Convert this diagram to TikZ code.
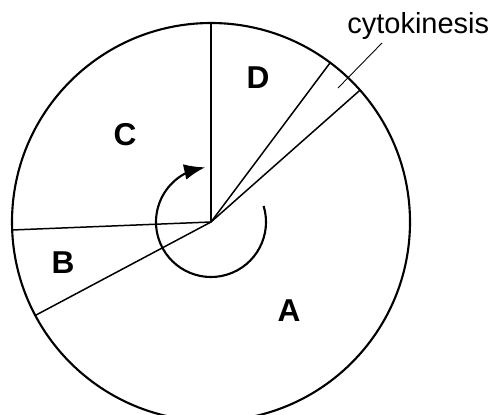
\documentclass[tikz,border=0pt]{standalone}
\usepackage{fontspec}
\setmainfont{Liberation Sans}
\usetikzlibrary{arrows.meta,bending}

\begin{document}
\begin{tikzpicture}[x=0.02cm, y=0.02cm,
    wall/.style={line width=0.85pt},
    phase/.style={font=\fontsize{18}{21}\selectfont\bfseries, inner sep=0pt}]
    \clip (0,0) rectangle (494,414);
    \coordinate (O) at (211,192);

    % the cycle and its phases
    \draw[line width=1.2pt] (O) circle[radius=199];
    \draw[wall] (O) -- ++(90:199);
    \draw[wall] (O) -- ++(182.3:199);
    \draw[wall] (O) -- ++(208:199);
    \draw[wall] (O) -- ++(53.2:199);
    \draw[wall] (O) -- ++(41.5:199);

    \node[phase] (A) at (289,103) {A};
    \node[phase] (B) at (63,151) {B};
    \node[phase] (C) at (125,279) {C};
    \node[phase] (D) at (258,336) {D};

    % direction of the cycle
    \draw[line width=1.2pt, -{Latex[length=12pt,width=9pt,flex=0.6]}] (O) ++(17:55) arc[start angle=17, end angle=-264, radius=55];

    % cytokinesis label
    \node[anchor=base west, inner sep=0pt, font=\fontsize{16.5}{20}\selectfont] (cyto) at (347,381) {cytokinesis};
    \coordinate (gap) at (338,326);
    \coordinate (tick) at (382,371);
    \draw[line width=0.5pt] (gap) -- (tick);
\end{tikzpicture}
\end{document}
